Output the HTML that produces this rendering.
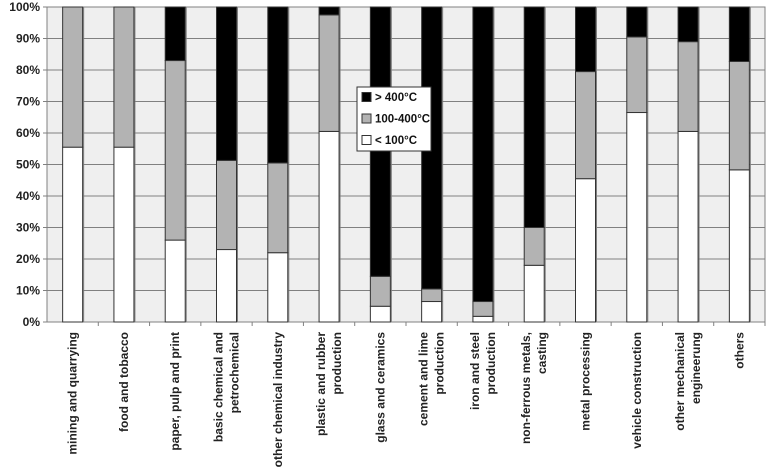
<!DOCTYPE html>
<html><head><meta charset="utf-8"><style>
html,body{margin:0;padding:0;background:#fff;}
svg{display:block;font-family:"Liberation Sans",Arial,sans-serif;}
</style></head><body>
<svg id="chart" width="768" height="475" viewBox="0 0 768 475"></svg>
<script>
const categories = [["mining and quarrying"],["food and tobacco"],["paper, pulp and print"],["basic chemical and","petrochemical"],["other chemical industry"],["plastic and rubber","production"],["glass and ceramics"],["cement and lime","production"],["iron and steel","production"],["non-ferrous metals,","casting"],["metal processing"],["vehicle construction"],["other mechanical","engineerung"],["others"]];
const low = [55.5,55.5,26,23,22,60.5,5,6.5,1.8,18,45.5,66.5,60.5,48.3];
const mid = [44.5,44.5,57,28.3,28.5,37,9.5,4,4.7,12,34,24,28.5,34.4];
const high = [0,0,17,48.7,49.5,2.5,85.5,89.5,93.5,70,20.5,9.5,11,17.3];
const yTicks = [0,10,20,30,40,50,60,70,80,90,100];
const series = [{name:"< 100°C",vals:low,fill:"#ffffff"},{name:"100-400°C",vals:mid,fill:"#b3b3b3"},{name:"> 400°C",vals:high,fill:"#000000"}];

const svg = document.getElementById('chart');
const NS = "http://www.w3.org/2000/svg";
const L=47,R=765,T=7,B=322;
const cw=(R-L)/categories.length, bw=20;
const y=v=>B-(v/100)*(B-T);
const xc=i=>L+cw*(i+0.5);
function mk(tag,attrs,parent){const e=document.createElementNS(NS,tag);for(const k in attrs)e.setAttribute(k,attrs[k]);(parent||svg).appendChild(e);return e;}

const bg=mk('rect',{x:L,y:T,width:R-L,height:B-T,fill:'#efefef',stroke:'#808080','stroke-width':1});


yTicks.forEach(t=>{
  const g=mk('line',{x1:L-4,x2:R,y1:y(t),y2:y(t),stroke:'#808080','stroke-width':1});
  
  
  const tx=mk('text',{x:L-7,y:y(t)+4,'text-anchor':'end','font-size':12,'font-weight':'bold',fill:'#222'});
  tx.textContent=t+'%';
  
  
});
categories.forEach((c,i)=>{
  const vx=xc(i)+bw/2+1;
  const vl=mk('line',{x1:vx,x2:vx,y1:T,y2:B,stroke:'#808080','stroke-width':1});
  
  
  const tk=mk('line',{x1:L+cw*(i+1),x2:L+cw*(i+1),y1:B,y2:B+4,stroke:'#808080'});
  
  
});
categories.forEach((c,i)=>{
  let acc=0;
  series.forEach(s=>{
    const v=s.vals[i];
    if(v>0){
      const r=mk('rect',{x:xc(i)-bw/2,y:y(acc+v),width:bw,height:y(acc)-y(acc+v),fill:s.fill,stroke:'#333','stroke-width':1});
      
      
    }
    acc+=v;
  });
  const n=c.length;
  c.forEach((line,j)=>{
    const off=(j-(n-1)/2)*16+4;
    const t=mk('text',{transform:`translate(${xc(i)+off},332) rotate(-90)`,'text-anchor':'end','font-size':12,'font-weight':'bold',fill:'#222'});
    t.textContent=line;
    
    
  });
});
const lg=mk('g',{});


mk('rect',{x:357,y:87,width:74,height:64,fill:'#fff',stroke:'#333'},lg);
[series[2],series[1],series[0]].forEach((s,k)=>{
  const yy=97+k*21.5;
  const sw=mk('rect',{x:362,y:yy-4.5,width:9,height:9,fill:s.fill,stroke:'#333'},lg);
  
  
  const t=mk('text',{x:375,y:yy+4,'font-size':11.5,'font-weight':'bold',fill:'#111'},lg);
  t.textContent=s.name;
  
  
});
</script>
</body></html>
